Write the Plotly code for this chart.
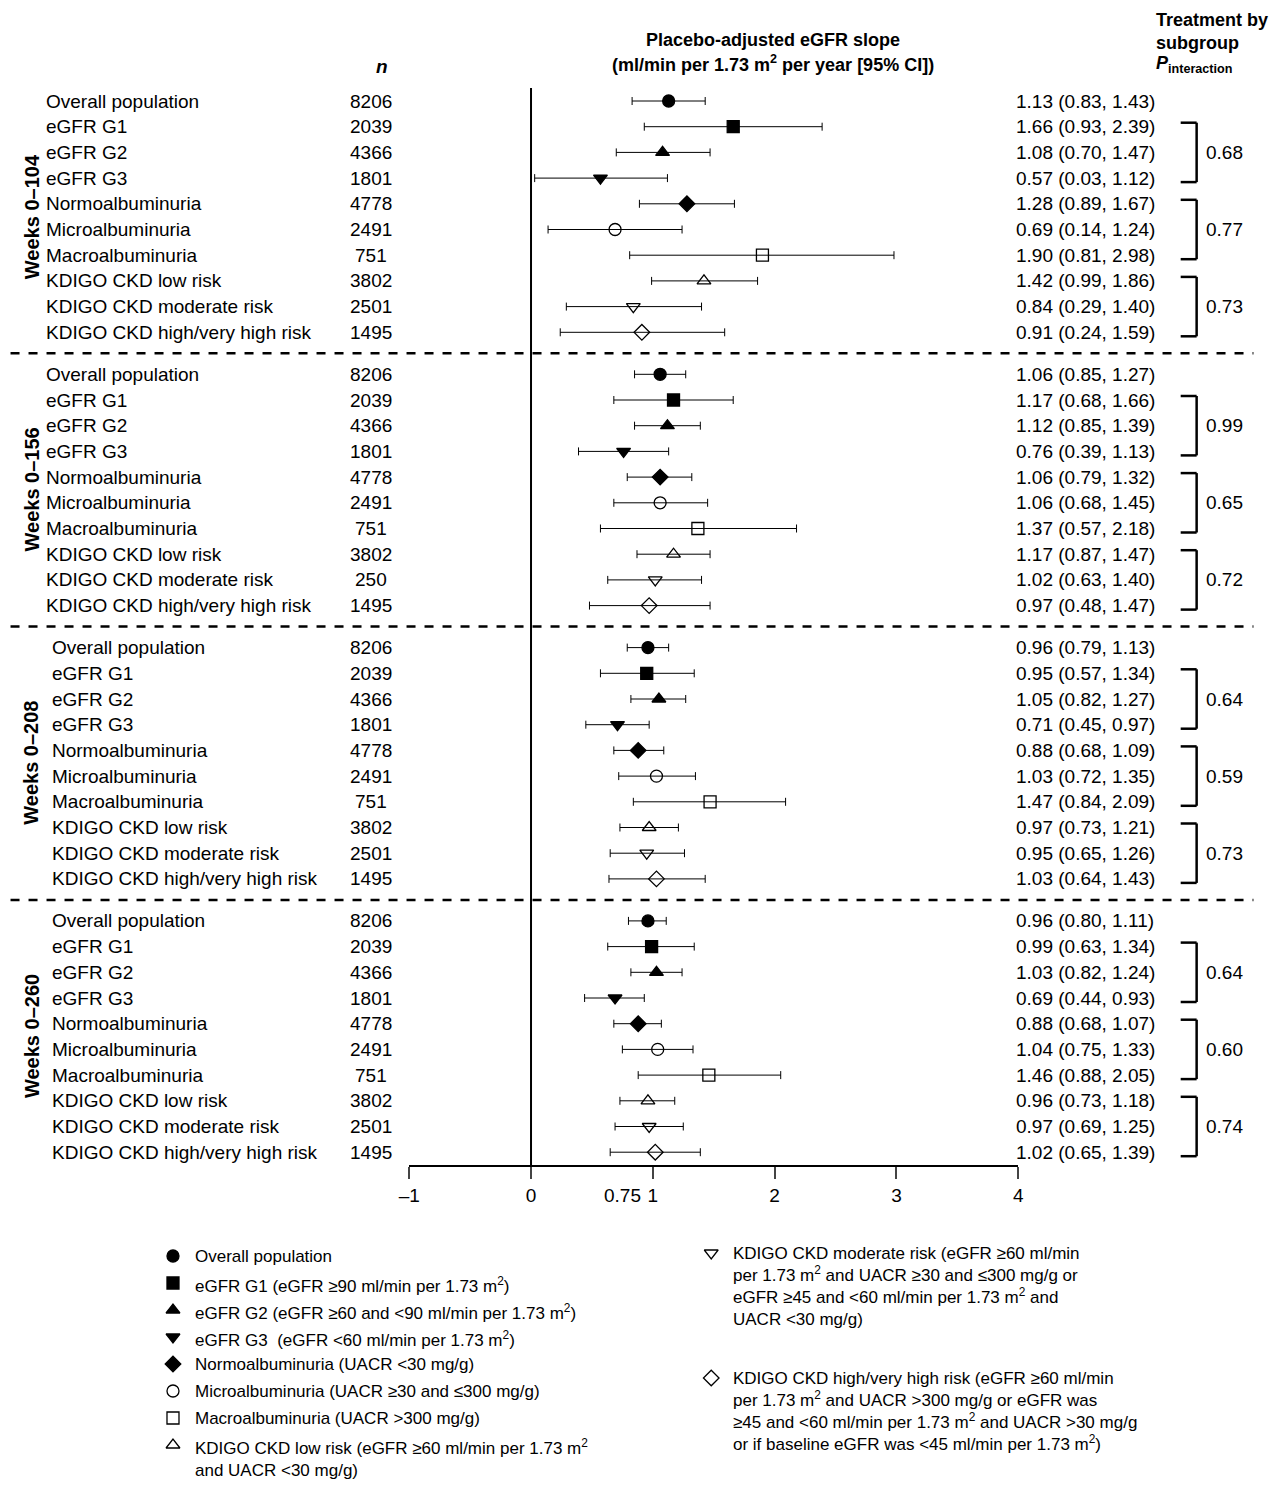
import plotly.graph_objects as go

W, H = 1284, 1493
FONT = "Liberation Sans, Arial, sans-serif"
FS = 19

sections = ["Weeks 0–104", "Weeks 0–156", "Weeks 0–208", "Weeks 0–260"]
subgroups = ["Overall population", "eGFR G1", "eGFR G2", "eGFR G3", "Normoalbuminuria",
             "Microalbuminuria", "Macroalbuminuria", "KDIGO CKD low risk",
             "KDIGO CKD moderate risk", "KDIGO CKD high/very high risk"]
n_values = [
    [8206, 2039, 4366, 1801, 4778, 2491, 751, 3802, 2501, 1495],
    [8206, 2039, 4366, 1801, 4778, 2491, 751, 3802, 250, 1495],
    [8206, 2039, 4366, 1801, 4778, 2491, 751, 3802, 2501, 1495],
    [8206, 2039, 4366, 1801, 4778, 2491, 751, 3802, 2501, 1495],
]
est = [
    [1.13, 1.66, 1.08, 0.57, 1.28, 0.69, 1.90, 1.42, 0.84, 0.91],
    [1.06, 1.17, 1.12, 0.76, 1.06, 1.06, 1.37, 1.17, 1.02, 0.97],
    [0.96, 0.95, 1.05, 0.71, 0.88, 1.03, 1.47, 0.97, 0.95, 1.03],
    [0.96, 0.99, 1.03, 0.69, 0.88, 1.04, 1.46, 0.96, 0.97, 1.02],
]
lo = [
    [0.83, 0.93, 0.70, 0.03, 0.89, 0.14, 0.81, 0.99, 0.29, 0.24],
    [0.85, 0.68, 0.85, 0.39, 0.79, 0.68, 0.57, 0.87, 0.63, 0.48],
    [0.79, 0.57, 0.82, 0.45, 0.68, 0.72, 0.84, 0.73, 0.65, 0.64],
    [0.80, 0.63, 0.82, 0.44, 0.68, 0.75, 0.88, 0.73, 0.69, 0.65],
]
hi = [
    [1.43, 2.39, 1.47, 1.12, 1.67, 1.24, 2.98, 1.86, 1.40, 1.59],
    [1.27, 1.66, 1.39, 1.13, 1.32, 1.45, 2.18, 1.47, 1.40, 1.47],
    [1.13, 1.34, 1.27, 0.97, 1.09, 1.35, 2.09, 1.21, 1.26, 1.43],
    [1.11, 1.34, 1.24, 0.93, 1.07, 1.33, 2.05, 1.18, 1.25, 1.39],
]
p_values = [["0.68", "0.77", "0.73"], ["0.99", "0.65", "0.72"],
            ["0.64", "0.59", "0.73"], ["0.64", "0.60", "0.74"]]
symbols = ["circle", "square", "triangle-up", "triangle-down", "diamond",
           "circle-open", "square-open", "triangle-up-open", "triangle-down-open", "diamond-open"]
x_ticks = [-1, 0, 1, 2, 3, 4]
x_ticktext = ["–1", "0", "1", "2", "3", "4"]

legend_left = [
    "Overall population",
    "eGFR G1 (eGFR ≥90 ml/min per 1.73 m<sup>2</sup>)",
    "eGFR G2 (eGFR ≥60 and <90 ml/min per 1.73 m<sup>2</sup>)",
    "eGFR G3  (eGFR <60 ml/min per 1.73 m<sup>2</sup>)",
    "Normoalbuminuria (UACR <30 mg/g)",
    "Microalbuminuria (UACR ≥30 and ≤300 mg/g)",
    "Macroalbuminuria (UACR >300 mg/g)",
    "KDIGO CKD low risk (eGFR ≥60 ml/min per 1.73 m<sup>2</sup><br>and UACR <30 mg/g)",
]
legend_right = [
    "KDIGO CKD moderate risk (eGFR ≥60 ml/min<br>per 1.73 m<sup>2</sup> and UACR ≥30 and ≤300 mg/g or<br>"
    "eGFR ≥45 and <60 ml/min per 1.73 m<sup>2</sup> and<br>UACR <30 mg/g)",
    "KDIGO CKD high/very high risk (eGFR ≥60 ml/min<br>per 1.73 m<sup>2</sup> and UACR >300 mg/g or eGFR was<br>"
    "≥45 and <60 ml/min per 1.73 m<sup>2</sup> and UACR >30 mg/g<br>or if baseline eGFR was <45 ml/min per 1.73 m<sup>2</sup>)",
]

# the page renders with a small offset/scale; compensate so targets land in place
def px(x):
    return (x - 18.5) / 0.99 / W

def vy(y):
    return y - 8

AXIS_Y = vy(1165)
X_LEFT, X_RIGHT = 410, 1021

def row_y(s, r):
    return vy(101 + s * 273.3 + r * 25.7)

fig = go.Figure()
ann = []
shapes = []
for s in range(4):
    ys = [row_y(s, r) for r in range(10)]
    for r in range(10):
        fig.add_trace(go.Scatter(
            x=[est[s][r]], y=[ys[r]], mode="markers",
            marker=dict(symbol=symbols[r], size=12, color="black",
                        line=dict(color="black", width=1.3)),
            error_x=dict(type="data", symmetric=False,
                         array=[hi[s][r] - est[s][r]], arrayminus=[est[s][r] - lo[s][r]],
                         color="black", thickness=1, width=4),
            showlegend=False))
        lx = 44 if s < 2 else 50
        ann.append(dict(x=px(lx), y=ys[r], xref="paper", yref="y", text=subgroups[r],
                        xanchor="left", showarrow=False))
        ann.append(dict(x=px(372), y=ys[r], xref="paper", yref="y", text=str(n_values[s][r]),
                        xanchor="center", showarrow=False))
        ann.append(dict(x=px(1017), y=ys[r], xref="paper", yref="y",
                        text=f"{est[s][r]:.2f} ({lo[s][r]:.2f}, {hi[s][r]:.2f})",
                        xanchor="left", showarrow=False))
    for g in range(3):
        a, b = ys[1 + 3 * g] - 4, ys[3 + 3 * g] + 4
        for path in [(1200, a, 1200, b), (1184, a, 1200, a), (1184, b, 1200, b)]:
            shapes.append(dict(type="line", xref="paper", yref="y", x0=px(path[0]), y0=path[1],
                               x1=px(path[2]), y1=path[3], line=dict(color="black", width=2.5)))
        ann.append(dict(x=px(1207), y=ys[2 + 3 * g], xref="paper", yref="y", text=p_values[s][g],
                        xanchor="left", showarrow=False))
    ann.append(dict(x=px(18), y=(ys[0] + ys[-1]) / 2, xref="paper", yref="y",
                    text=f"<b>{sections[s]}</b>", textangle=-90, showarrow=False, font=dict(size=20)))
    if s < 3:
        dy = (ys[-1] + row_y(s + 1, 0)) / 2
        shapes.append(dict(type="line", xref="paper", yref="y", x0=px(10), x1=px(1257), y0=dy, y1=dy,
                           line=dict(color="black", width=2.5, dash="dash")))

shapes.append(dict(type="line", xref="x", yref="y", x0=0, x1=0, y0=vy(88), y1=AXIS_Y,
                   line=dict(color="black", width=2)))

# header
ann += [
    dict(x=px(375), y=vy(66), xref="paper", yref="y", text="<b><i>n</i></b>", showarrow=False),
    dict(x=px(775), y=vy(40), xref="paper", yref="y", text="<b>Placebo-adjusted eGFR slope</b>",
         showarrow=False, font=dict(size=18)),
    dict(x=px(775), y=vy(63), xref="paper", yref="y",
         text="<b>(ml/min per 1.73 m<sup>2</sup> per year [95% CI])</b>", showarrow=False, font=dict(size=18)),
    dict(x=px(1157), y=vy(20), xref="paper", yref="y", text="<b>Treatment by</b>", xanchor="left",
         showarrow=False, font=dict(size=18)),
    dict(x=px(1157), y=vy(43), xref="paper", yref="y", text="<b>subgroup</b>", xanchor="left",
         showarrow=False, font=dict(size=18)),
    dict(x=px(1157), y=vy(64), xref="paper", yref="y",
         text="<b><i>P</i><sub>interaction</sub></b>", xanchor="left", showarrow=False, font=dict(size=18)),
]

# extra 0.75 tick label, placed on the pixel overlay using the main axis scale
x075 = X_LEFT + (0.75 - (-1)) * (X_RIGHT - X_LEFT) / 5
ann.append(dict(x=px(x075) * W, y=AXIS_Y + 30, xref="x2", yref="y2", text="0.75", showarrow=False))

# legend: symbols as markers on an overlay axis in page pixels
leg_x, leg_y, leg_sym = [], [], []
for i, txt in enumerate(legend_left):
    y = 1256 + i * 27
    leg_x.append(173); leg_y.append(vy(y)); leg_sym.append(symbols[i])
    ann.append(dict(x=px(193) * W, y=vy(y) - 11, xref="x2", yref="y2", text=txt, showarrow=False,
                    xanchor="left", yanchor="top", align="left", font=dict(size=17)))
for txt, y, sym in [(legend_right[0], 1253, symbols[8]), (legend_right[1], 1378, symbols[9])]:
    leg_x.append(713); leg_y.append(vy(y)); leg_sym.append(sym)
    ann.append(dict(x=px(733) * W, y=vy(y) - 11, xref="x2", yref="y2", text=txt, showarrow=False,
                    xanchor="left", yanchor="top", align="left", font=dict(size=17)))
fig.add_trace(go.Scatter(x=[px(v) * W for v in leg_x], y=leg_y, mode="markers", xaxis="x2", yaxis="y2",
                         marker=dict(symbol=leg_sym, size=12, color="black", line=dict(color="black", width=1.3)),
                         showlegend=False))

fig.update_layout(
    width=W, height=H, margin=dict(l=0, r=0, t=0, b=0),
    paper_bgcolor="white", plot_bgcolor="rgba(0,0,0,0)",
    font=dict(family=FONT, color="black", size=FS),
    xaxis=dict(domain=[px(X_LEFT), px(X_RIGHT)], range=[-1, 4], tickvals=x_ticks, ticktext=x_ticktext,
               ticks="outside", ticklen=12, tickwidth=2, showline=True, linewidth=2, linecolor="black",
               showgrid=False, zeroline=False, tickfont=dict(size=FS), anchor="y"),
    yaxis=dict(domain=[1 - AXIS_Y / H, 1], range=[AXIS_Y, 0], visible=False, showgrid=False),
    xaxis2=dict(domain=[0, 1], range=[0, W], visible=False, anchor="y2"),
    yaxis2=dict(domain=[0, 1], range=[H, 0], visible=False, anchor="x2"),
    annotations=ann, shapes=shapes,
)
fig.write_html("out.html")
